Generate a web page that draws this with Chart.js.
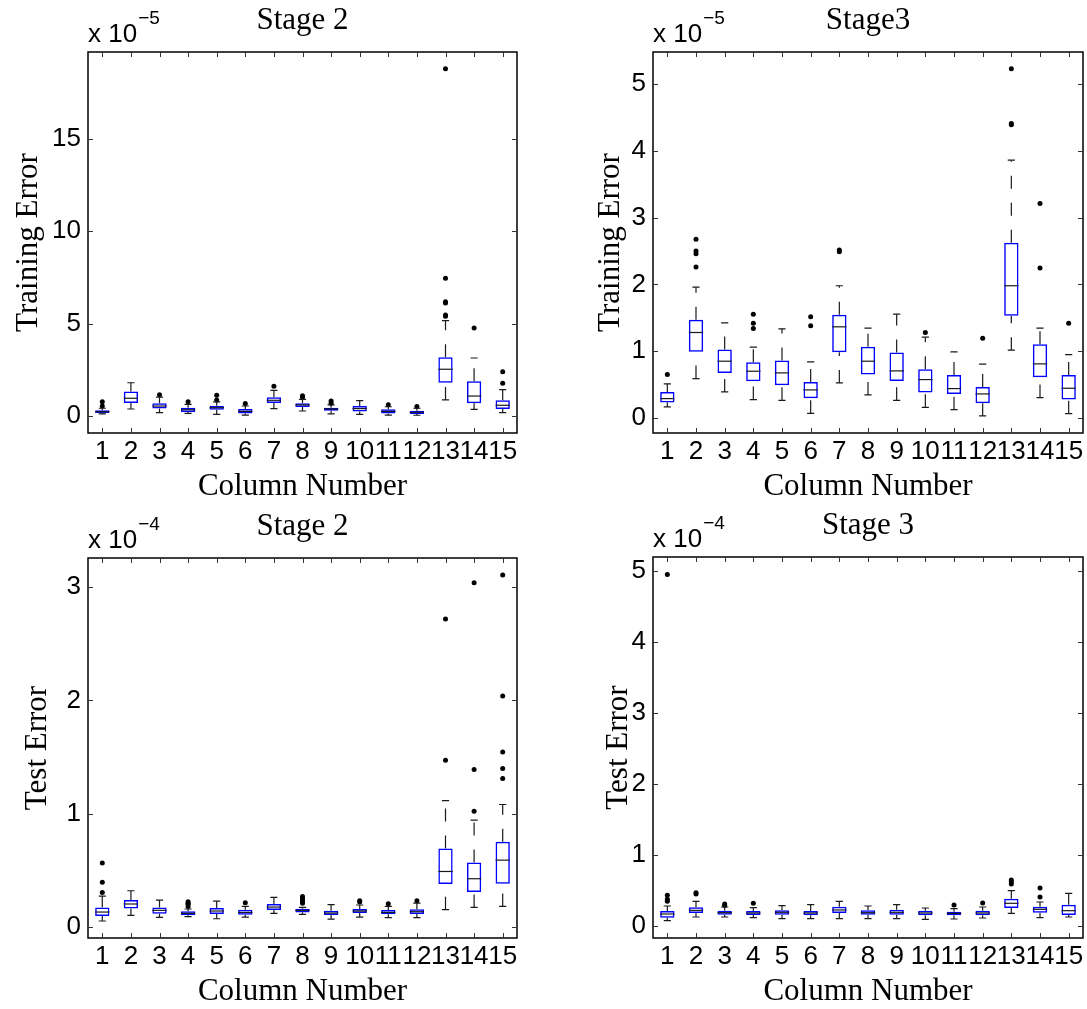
<!DOCTYPE html>
<html>
<head>
<meta charset="utf-8">
<script src="https://cdn.jsdelivr.net/npm/chart.js@4.4.1/dist/chart.umd.min.js"></script>
<style>
  html, body { margin: 0; padding: 0; background: #fff; }
  #wrap { position: relative; width: 1087px; height: 1009px; overflow: hidden; }
  canvas { position: absolute; }
</style>
</head>
<body>
<div id="wrap">
  <canvas id="trainS2" width="543" height="504" style="left:0;top:0"></canvas>
  <canvas id="trainS3" width="544" height="504" style="left:543px;top:0"></canvas>
  <canvas id="testS2" width="543" height="505" style="left:0;top:504px"></canvas>
  <canvas id="testS3" width="544" height="505" style="left:543px;top:504px"></canvas>
</div>
<script>
// Column labels shared by all four panels
const columns = ['1','2','3','4','5','6','7','8','9','10','11','12','13','14','15'];

// Training error, stage 2 (x 10^-5)
const trainS2Low    = [0.12, 0.38, 0.18, 0.14, 0.09, 0.05, 0.40, 0.27, 0.12, 0.09, 0.05, 0.04, 0.87, 0.36, 0.18];
const trainS2Q1     = [0.16, 0.70, 0.40, 0.22, 0.34, 0.14, 0.70, 0.49, 0.29, 0.25, 0.14, 0.11, 1.80, 0.69, 0.38];
const trainS2Median = [0.23, 0.96, 0.54, 0.34, 0.45, 0.25, 0.85, 0.60, 0.38, 0.40, 0.25, 0.20, 2.53, 1.08, 0.58];
const trainS2Q3     = [0.31, 1.32, 0.69, 0.45, 0.56, 0.38, 1.01, 0.69, 0.45, 0.54, 0.36, 0.29, 3.18, 1.88, 0.85];
const trainS2High   = [0.42, 1.80, 1.02, 0.63, 0.76, 0.54, 1.39, 0.90, 0.60, 0.83, 0.50, 0.42, 5.16, 3.14, 1.43];
const trainS2Outliers = [[0.54, 0.77], [], [1.15], [0.77], [0.87, 1.12], [0.67], [1.61], [1.01, 1.10], [0.69, 0.81], [], [0.61], [0.52],
  [5.40, 5.47, 6.12, 6.19, 7.46, 18.79], [4.76], [1.77, 2.40]];
const trainS2Ticks = [0, 5, 10, 15];

// Training error, stage 3 (x 10^-5)
const trainS3Low    = [0.165, 0.59, 0.39, 0.275, 0.265, 0.07, 0.525, 0.345, 0.265, 0.16, 0.125, 0.03, 1.015, 0.305, 0.065];
const trainS3Q1     = [0.23, 0.99, 0.675, 0.55, 0.49, 0.295, 0.985, 0.65, 0.555, 0.38, 0.36, 0.22, 1.53, 0.61, 0.275];
const trainS3Median = [0.29, 1.28, 0.85, 0.70, 0.675, 0.42, 1.365, 0.85, 0.705, 0.575, 0.44, 0.36, 1.98, 0.81, 0.445];
const trainS3Q3     = [0.39, 1.47, 1.025, 0.835, 0.86, 0.54, 1.545, 1.065, 0.98, 0.73, 0.645, 0.465, 2.625, 1.105, 0.645];
const trainS3High   = [0.51, 1.96, 1.425, 1.06, 1.335, 0.84, 1.98, 1.345, 1.555, 1.21, 0.99, 0.805, 3.86, 1.345, 0.95];
const trainS3Outliers = [[0.65], [2.26, 2.46, 2.50, 2.675], [], [1.34, 1.42, 1.555], [], [1.38, 1.515], [2.49, 2.515], [], [], [1.28], [], [1.195],
  [4.39, 4.41, 5.23], [2.245, 3.21], [1.42]];
const trainS3Ticks = [0, 1, 2, 3, 4, 5];

// Test error, stage 2 (x 10^-4)
const testS2Low    = [0.053, 0.103, 0.085, 0.091, 0.073, 0.088, 0.12, 0.112, 0.07, 0.088, 0.082, 0.082, 0.153, 0.173, 0.182];
const testS2Q1     = [0.097, 0.164, 0.117, 0.103, 0.115, 0.109, 0.15, 0.129, 0.106, 0.123, 0.112, 0.115, 0.379, 0.308, 0.382];
const testS2Median = [0.132, 0.203, 0.147, 0.12, 0.141, 0.129, 0.176, 0.147, 0.123, 0.141, 0.129, 0.135, 0.49, 0.426, 0.59];
const testS2Q3     = [0.173, 0.238, 0.173, 0.138, 0.167, 0.153, 0.203, 0.162, 0.144, 0.159, 0.15, 0.156, 0.693, 0.57, 0.752];
const testS2High   = [0.273, 0.32, 0.238, 0.159, 0.229, 0.182, 0.261, 0.173, 0.197, 0.194, 0.182, 0.211, 1.116, 0.943, 1.081];
const testS2Outliers = [[0.305, 0.394, 0.564], [], [], [0.18, 0.20, 0.21, 0.223], [], [0.214], [], [0.21, 0.22, 0.235, 0.25, 0.27], [],
  [0.22, 0.232], [0.206], [0.232], [1.471, 2.717], [1.022, 1.389, 3.037], [1.31, 1.398, 1.545, 2.038, 3.107]];
const testS2Ticks = [0, 1, 2, 3];

// Test error, stage 3 (x 10^-4)
const testS3Low    = [0.076, 0.127, 0.127, 0.118, 0.104, 0.104, 0.104, 0.104, 0.104, 0.094, 0.099, 0.113, 0.179, 0.118, 0.127];
const testS3Q1     = [0.118, 0.183, 0.16, 0.155, 0.16, 0.15, 0.183, 0.16, 0.16, 0.15, 0.15, 0.15, 0.254, 0.188, 0.155];
const testS3Median = [0.169, 0.221, 0.188, 0.183, 0.193, 0.183, 0.226, 0.188, 0.193, 0.183, 0.178, 0.183, 0.32, 0.235, 0.216];
const testS3Q3     = [0.211, 0.263, 0.216, 0.211, 0.221, 0.211, 0.273, 0.221, 0.23, 0.216, 0.202, 0.216, 0.385, 0.273, 0.301];
const testS3High   = [0.282, 0.348, 0.268, 0.259, 0.287, 0.301, 0.348, 0.282, 0.301, 0.254, 0.244, 0.268, 0.498, 0.338, 0.46];
const testS3Outliers = [[0.348, 0.376, 0.432, 4.953], [0.451, 0.47], [0.29, 0.31], [0.32], [], [], [], [], [], [], [0.296], [0.324],
  [0.592, 0.62, 0.648], [0.409, 0.536], []];
const testS3Ticks = [0, 1, 2, 3, 4, 5];

const SANS = '"Liberation Sans", Arial, sans-serif';
const SERIF = '"Liberation Serif", "Times New Roman", serif';
const BOX_BLUE = '#0000ff';

// whiskers, caps and medians drawn from the scales
const boxParts = {
  id: 'boxParts',
  afterDatasetsDraw(chart) {
    const st = chart.options.plugins.boxParts;
    const xs = chart.scales.x, ys = chart.scales.y;
    const bars = chart.getDatasetMeta(0).data;
    const ctx = chart.ctx;
    ctx.save();
    ctx.beginPath();
    ctx.rect(chart.chartArea.left, chart.chartArea.top, chart.chartArea.right - chart.chartArea.left, chart.chartArea.bottom - chart.chartArea.top);
    ctx.clip();
    ctx.strokeStyle = '#1a1a1a';
    ctx.lineWidth = 1.2;
    st.median.forEach((m, i) => {
      const x = xs.getPixelForValue(i);
      const half = bars[i].width / 2;
      const yLo = ys.getPixelForValue(st.low[i]);
      const yQ1 = ys.getPixelForValue(st.q1[i]);
      const yQ3 = ys.getPixelForValue(st.q3[i]);
      const yHi = ys.getPixelForValue(st.high[i]);
      const yMed = ys.getPixelForValue(m);
      // dashed whiskers
      ctx.setLineDash([13, 14]);
      ctx.beginPath();
      ctx.moveTo(x, yQ3); ctx.lineTo(x, yHi);
      ctx.stroke();
      ctx.beginPath();
      ctx.moveTo(x, yLo); ctx.lineTo(x, yQ1);
      ctx.stroke();
      ctx.setLineDash([]);
      // caps
      ctx.beginPath();
      ctx.moveTo(x - half / 2, yHi); ctx.lineTo(x + half / 2, yHi);
      ctx.moveTo(x - half / 2, yLo); ctx.lineTo(x + half / 2, yLo);
      ctx.stroke();
      // median
      ctx.beginPath();
      ctx.moveTo(x - half, yMed); ctx.lineTo(x + half, yMed);
      ctx.stroke();
    });
    ctx.restore();
  }
};

// MATLAB-like frame, inward ticks, titles and exponent label
const matlabFrame = {
  id: 'matlabFrame',
  afterDraw(chart) {
    const st = chart.options.plugins.matlabFrame;
    const {left, right, top, bottom} = chart.chartArea;
    const ctx = chart.ctx;
    const xs = chart.scales.x, ys = chart.scales.y;
    ctx.save();
    ctx.strokeStyle = '#000';
    ctx.lineWidth = 1.5;
    ctx.strokeRect(left, top, right - left, bottom - top);
    ctx.lineWidth = 1;
    ctx.strokeStyle = '#333';
    ctx.beginPath();
    xs.ticks.forEach((t, i) => {
      const x = Math.round(xs.getPixelForTick(i)) + 0.5;
      ctx.moveTo(x, bottom); ctx.lineTo(x, bottom - 5);
      ctx.moveTo(x, top); ctx.lineTo(x, top + 5);
    });
    ys.ticks.forEach(t => {
      const y = Math.round(ys.getPixelForValue(t.value)) + 0.5;
      ctx.moveTo(left, y); ctx.lineTo(left + 5, y);
      ctx.moveTo(right, y); ctx.lineTo(right - 5, y);
    });
    ctx.stroke();

    ctx.fillStyle = '#000';
    // title
    ctx.font = '31px ' + SERIF;
    ctx.textAlign = 'center';
    ctx.textBaseline = 'alphabetic';
    ctx.fillText(st.title, (left + right) / 2, top - 23);
    // x label
    ctx.fillText('Column Number', (left + right) / 2, bottom + 62);
    // y label
    ctx.save();
    ctx.translate(st.ylabelX, (top + bottom) / 2);
    ctx.rotate(-Math.PI / 2);
    ctx.textBaseline = 'middle';
    ctx.fillText(st.ylabel, 0, 0);
    ctx.restore();
    // exponent
    ctx.textAlign = 'left';
    ctx.font = '26px ' + SANS;
    const base = 'x 10';
    ctx.fillText(base, left, top - 10);
    const w = ctx.measureText(base).width;
    ctx.font = '19px ' + SANS;
    ctx.fillText(st.exponent, left + w + 1, top - 28);
    ctx.restore();
  }
};

function makePanel(id, p) {
  const canvas = document.getElementById(id);
  const W = canvas.width, H = canvas.height;
  const points = [];
  p.outliers.forEach((vals, i) => vals.forEach(v => points.push({x: columns[i], y: v})));

  return new Chart(canvas, {
    type: 'bar',
    data: {
      labels: columns,
      datasets: [{
        type: 'bar',
        data: p.q1.map((v, i) => [v, p.q3[i]]),
        backgroundColor: 'rgba(0,0,0,0)',
        borderColor: BOX_BLUE,
        borderWidth: 1.5,
        borderSkipped: false,
        barPercentage: 0.5,
        categoryPercentage: 1.0,
        grouped: false
      }, {
        type: 'scatter',
        data: points,
        pointRadius: 2.5,
        pointBackgroundColor: '#000',
        pointBorderColor: '#000',
        pointBorderWidth: 0,
        showLine: false
      }]
    },
    options: {
      responsive: false,
      animation: false,
      events: [],
      layout: { padding: { left: 0, right: W - p.right, top: p.top, bottom: 0 } },
      scales: {
        x: {
          type: 'category',
          offset: true,
          afterFit: s => { s.height = H - p.bottom; },
          grid: { display: false, drawTicks: false },
          border: { display: false },
          ticks: {
            autoSkip: false, maxRotation: 0, minRotation: 0, padding: 3,
            color: '#000', font: { family: SANS, size: 26 }
          }
        },
        y: {
          min: p.min,
          max: p.max,
          afterBuildTicks: s => { s.ticks = p.ticks.map(v => ({value: v})); },
          afterFit: s => { s.width = p.left; },
          grid: { display: false, drawTicks: false },
          border: { display: false },
          ticks: {
            padding: 7, color: '#000', font: { family: SANS, size: 26 },
            callback: v => String(v)
          }
        }
      },
      plugins: {
        legend: { display: false },
        tooltip: { enabled: false },
        boxParts: { low: p.low, q1: p.q1, median: p.median, q3: p.q3, high: p.high },
        matlabFrame: { title: p.title, ylabel: p.ylabel, ylabelX: p.ylabelX, exponent: p.exponent }
      }
    },
    plugins: [boxParts, matlabFrame]
  });
}

makePanel('trainS2', {
  low: trainS2Low, q1: trainS2Q1, median: trainS2Median, q3: trainS2Q3, high: trainS2High, outliers: trainS2Outliers,
  ticks: trainS2Ticks, min: -0.92, max: 19.7,
  left: 88, right: 517, top: 52, bottom: 433,
  title: 'Stage 2', ylabel: 'Training Error', ylabelX: 29, exponent: '\u22125'
});
makePanel('trainS3', {
  low: trainS3Low, q1: trainS3Q1, median: trainS3Median, q3: trainS3Q3, high: trainS3High, outliers: trainS3Outliers,
  ticks: trainS3Ticks, min: -0.225, max: 5.48,
  left: 110, right: 540, top: 52, bottom: 433,
  title: 'Stage3', ylabel: 'Training Error', ylabelX: 68, exponent: '\u22125'
});
makePanel('testS2', {
  low: testS2Low, q1: testS2Q1, median: testS2Median, q3: testS2Q3, high: testS2High, outliers: testS2Outliers,
  ticks: testS2Ticks, min: -0.097, max: 3.256,
  left: 88, right: 517, top: 54, bottom: 434,
  title: 'Stage 2', ylabel: 'Test Error', ylabelX: 38, exponent: '\u22124'
});
makePanel('testS3', {
  low: testS3Low, q1: testS3Q1, median: testS3Median, q3: testS3Q3, high: testS3High, outliers: testS3Outliers,
  ticks: testS3Ticks, min: -0.169, max: 5.2,
  left: 110, right: 540, top: 53, bottom: 434,
  title: 'Stage 3', ylabel: 'Test Error', ylabelX: 76, exponent: '\u22124'
});
</script>
</body>
</html>
